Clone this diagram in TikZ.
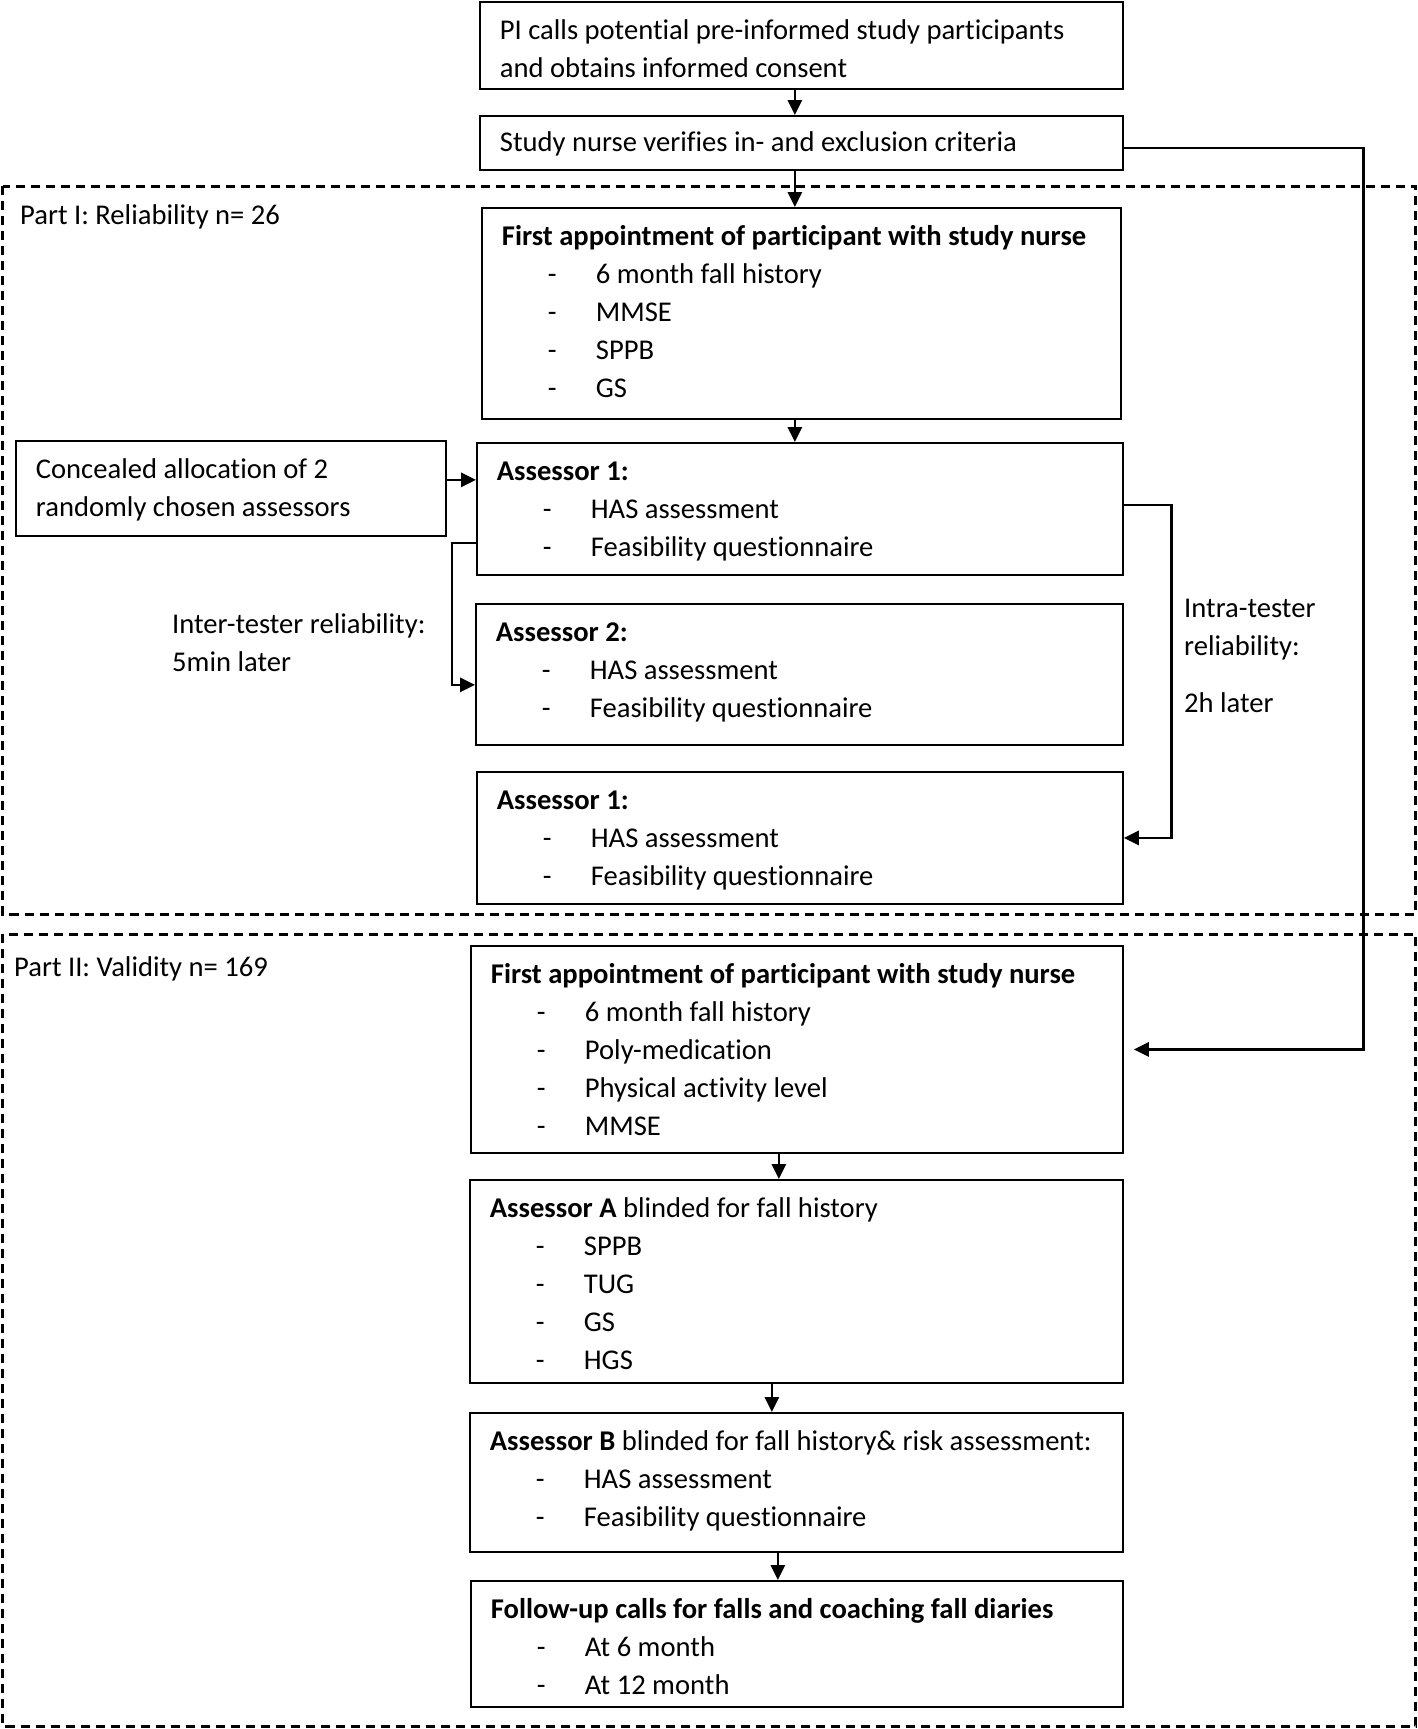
\documentclass[tikz,border=0pt]{standalone}
\usepackage{fontspec}
\setmainfont{Carlito}[Ligatures=NoCommon]
\usetikzlibrary{arrows.meta}

% one dash item inside a box
\newcommand{\itm}[1]{\\\hspace*{46pt}\makebox[48pt][l]{-}#1}

\begin{document}
\begin{tikzpicture}[x=1pt, y=-1pt,
  font=\fontsize{28.6}{38}\selectfont,
  >={Triangle[length=15pt,width=14pt]},
  box/.style={draw, line width=1.8pt, anchor=north west, inner xsep=20pt, inner ysep=0pt,
    align=flush left, text height=37.4pt},
  lbl/.style={inner sep=0pt, align=left},
  arr/.style={->, line width=2.8pt},
  part/.style={dash pattern=on 9pt off 6pt, line width=3pt}]

  \useasboundingbox (0,0) rectangle (1418,1729);

  % Dashed frames of the two parts
  \draw[part] (2.5,186) rectangle (1415.5,914);
  \draw[part] (2.5,934) rectangle (1415.5,1726);
  \node[lbl, anchor=west] (relpart) at (20,217) {Part I: Reliability n= 26};
  \node[lbl, anchor=west] (valpart) at (14,969) {Part II: Validity n= 169};

  % Recruitment
  \node[box, text width=603pt, text depth=49.6pt] (pi) at (479,1)
    {PI calls potential pre-informed study participants\\and obtains informed consent};
  \node[box, text width=603pt, text height=36pt, text depth=18pt] (nurse) at (479,115)
    {Study nurse verifies in- and exclusion criteria};

  % Part I
  \node[box, text width=599pt, text depth=173.6pt] (relfirst) at (481,207)
    {\mbox{\textbf{First appointment of participant with study nurse}}
     \itm{6 month fall history}\itm{MMSE}\itm{SPPB}\itm{GS}};
  \node[box, text width=390pt, text depth=57.6pt] (conceal) at (15,440)
    {Concealed allocation of 2\\randomly chosen assessors};
  \node[box, text width=606pt, text depth=94.6pt] (assone) at (476,442)
    {\textbf{Assessor 1:}\itm{HAS assessment}\itm{Feasibility questionnaire}};
  \node[box, text width=607pt, text depth=103.6pt] (asstwo) at (475,603)
    {\textbf{Assessor 2:}\itm{HAS assessment}\itm{Feasibility questionnaire}};
  \node[box, text width=606pt, text depth=94.6pt] (assoneb) at (476,771)
    {\textbf{Assessor 1:}\itm{HAS assessment}\itm{Feasibility questionnaire}};
  \node[lbl, anchor=west] (inter) at (172,643) {Inter-tester reliability:\\5min later};
  \node[lbl, anchor=west] (intra) at (1184,656) {Intra-tester\\reliability:\\[19pt]2h later};

  % Part II
  \node[box, text width=612pt, text depth=169.6pt] (valfirst) at (470,945)
    {\mbox{\textbf{First appointment of participant with study nurse}}
     \itm{6 month fall history}\itm{Poly-medication}\itm{Physical activity level}\itm{MMSE}};
  \node[box, text width=613pt, text depth=165.6pt] (assa) at (469,1179)
    {\textbf{Assessor A} blinded for fall history\itm{SPPB}\itm{TUG}\itm{GS}\itm{HGS}};
  \node[box, text width=613pt, text depth=101.6pt] (assb) at (469,1412)
    {\mbox{\textbf{Assessor B} blinded for fall history\& risk assessment:}
     \itm{HAS assessment}\itm{Feasibility questionnaire}};
  \node[box, text width=612pt, text depth=88.6pt] (follow) at (470,1580)
    {\mbox{\textbf{Follow-up calls for falls and coaching fall diaries}}\itm{At 6 month}\itm{At 12 month}};

  % Connectors
  \draw[arr] ([xshift=-6.5pt]pi.south) -- ([xshift=-6.5pt]nurse.north);
  \draw[arr] ([xshift=-6.5pt]nurse.south) -- ([xshift=-6.5pt]relfirst.north);
  \draw[arr] ([xshift=-6.5pt]relfirst.south) -- ([xshift=-6.5pt]relfirst.south |- assone.north);
  \draw[arr] ([yshift=8.5pt]conceal.east) -- ([yshift=8.5pt]conceal.east -| assone.west);
  \draw[arr] ([yshift=-34pt]assone.west) -| ([xshift=-23pt,yshift=-10.5pt]asstwo.west)
    -- ([yshift=-10.5pt]asstwo.west);
  \draw[arr] ([yshift=4pt]assone.east) -| ([xshift=48pt]assoneb.east) -- (assoneb.east);
  \draw[arr] ([yshift=-5pt]nurse.east) -| ([xshift=240pt]valfirst.east)
    -- ([xshift=10pt]valfirst.east);
  \draw[arr] ([xshift=-18pt]valfirst.south) -- ([xshift=-18pt]valfirst.south |- assa.north);
  \draw[arr] ([xshift=-24.5pt]assa.south) -- ([xshift=-24.5pt]assa.south |- assb.north);
  \draw[arr] ([xshift=-18.5pt]assb.south) -- ([xshift=-18.5pt]assb.south |- follow.north);

\end{tikzpicture}
\end{document}
